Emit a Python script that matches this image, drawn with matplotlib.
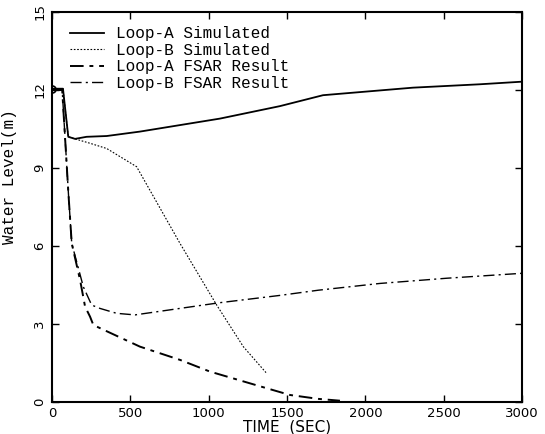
import matplotlib.pyplot as plt

# Loop-A simulated (solid)
t_a_sim = [0, 70, 104, 147, 221, 349, 561, 1072, 1455, 1730, 2304, 2731, 3000]
lvl_a_sim = [12.05, 12.05, 10.2, 10.12, 10.2, 10.23, 10.4, 10.9, 11.38, 11.8, 12.09, 12.22, 12.32]

# Loop-B simulated (dotted)
t_b_sim = [0, 70, 104, 147, 243, 349, 540, 817, 1051, 1221, 1366]
lvl_b_sim = [12.05, 12.05, 10.2, 10.12, 9.95, 9.75, 9.05, 6.1, 3.73, 2.13, 1.13]

# Loop-A FSAR result (dashed, goes to zero)
t_a_fsar = [0, 65, 85, 105, 126, 179, 211, 243, 264, 561, 817, 1008, 1370, 1519, 1700, 1838]
lvl_a_fsar = [12.0, 12.0, 10.0, 8.0, 6.1, 4.7, 3.67, 3.28, 2.96, 2.13, 1.62, 1.17, 0.53, 0.27, 0.12, 0.05]

# Loop-B FSAR result (dash-dot, recovers)
t_b_fsar = [0, 65, 85, 105, 126, 200, 253, 306, 413, 530, 817, 1072, 1455, 1700, 2093, 2519, 3000]
lvl_b_fsar = [12.0, 12.0, 10.0, 8.0, 6.1, 4.43, 3.73, 3.6, 3.41, 3.35, 3.6, 3.82, 4.1, 4.3, 4.56, 4.76, 4.95]

mono = "Liberation Mono"

fig = plt.figure(figsize=(5.45, 4.34), dpi=100)
ax = fig.add_axes([52 / 545, 1 - 402 / 434, 470 / 545, 390 / 434])

ax.plot(t_a_sim, lvl_a_sim, color="black", lw=1.3, label="Loop-A Simulated")
ax.plot(t_b_sim, lvl_b_sim, color="black", lw=0.8, ls=(0, (1.5, 1.5)), label="Loop-B Simulated")
ax.plot(t_a_fsar, lvl_a_fsar, color="black", lw=1.4, ls=(0, (7, 3, 2, 3)), label="Loop-A FSAR Result")
ax.plot(t_b_fsar, lvl_b_fsar, color="black", lw=1.0, ls=(0, (8, 3, 1.5, 3)), label="Loop-B FSAR Result")
ax.plot([0], [12.05], marker="o", ms=5, mfc="none", mec="black", mew=1.2)

ax.set_xlim(0, 3000)
ax.set_ylim(0, 15)
ax.set_xticks([0, 500, 1000, 1500, 2000, 2500, 3000])
ax.set_yticks([0, 3, 6, 9, 12, 15])
ax.tick_params(direction="in", top=True, right=True, length=5, width=1, labelsize=9.5)
ax.tick_params(axis="y", labelrotation=90, pad=4)
for lbl in ax.get_yticklabels():
    lbl.set_va("center")
for s in ax.spines.values():
    s.set_linewidth(1.5)

ax.set_xlabel("TIME  (SEC)", fontsize=11, labelpad=0)
ax.set_ylabel("Water Level(m)", fontsize=11.5, family=mono)
ax.yaxis.set_label_coords(-0.074, 0.577)

leg = ax.legend(loc="upper left", bbox_to_anchor=(0.025, 0.98), frameon=False,
                prop={"family": mono, "size": 11.5}, handlelength=2.1,
                labelspacing=0.1, borderaxespad=0, handletextpad=0.8)

fig.savefig("out.png", dpi=100)
